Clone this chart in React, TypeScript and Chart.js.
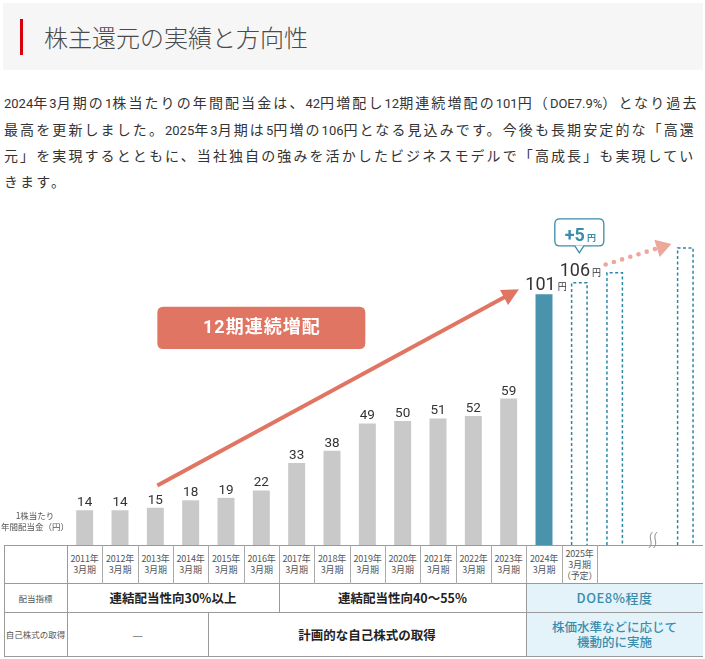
import React, { useEffect, useRef } from "react";
import { Chart, registerables } from "chart.js";

Chart.register(...registerables);

// ---------------- data ----------------
const headline = "株主還元の実績と方向性";
const introLines = [
  "2024年3月期の1株当たりの年間配当金は、42円増配し12期連続増配の101円（DOE7.9%）となり過去",
  "最高を更新しました。2025年3月期は5円増の106円となる見込みです。今後も長期安定的な「高還",
  "元」を実現するとともに、当社独自の強みを活かしたビジネスモデルで「高成長」も実現してい",
  "きます。",
];

const categories = [
  "2011", "2012", "2013", "2014", "2015", "2016", "2017", "2018", "2019",
  "2020", "2021", "2022", "2023", "2024", "2025", "2026", "gap", "future",
];
const actualValues = [14, 14, 15, 18, 19, 22, 33, 38, 49, 50, 51, 52, 59, 101, null, null, null, null];
const forecastValues = [null, null, null, null, null, null, null, null, null, null, null, null, null, null, 106, 110, null, 120];
const highlightIndex = 13;
const forecastIndex = 14;
const increaseLabel = "+5";
const badgeLabel = "12期連続増配";
const axisLabelLines = ["1株当たり", "年間配当金（円）"];

const yearLabels = [
  "2011年\n3月期", "2012年\n3月期", "2013年\n3月期", "2014年\n3月期", "2015年\n3月期",
  "2016年\n3月期", "2017年\n3月期", "2018年\n3月期", "2019年\n3月期", "2020年\n3月期",
  "2021年\n3月期", "2022年\n3月期", "2023年\n3月期", "2024年\n3月期", "2025年\n3月期\n（予定）",
];
const policyRowLabel = "配当指標";
const policyTexts = ["連結配当性向30%以上", "連結配当性向40～55%", "DOE8%程度"];
const policySpans = [6, 7, 5];
const buybackRowLabel = "自己株式の取得";
const buybackTexts = ["—", "計画的な自己株式の取得", "株価水準などに応じて\n機動的に実施"];
const buybackSpans = [4, 9, 5];

// ---------------- styles ----------------
const GRAY_BAR = "#c9c9c9";
const TEAL_BAR = "#4993ad";
const TEAL_LINE = "#2a86a6";
const TEAL_TEXT = "#3a8cab";
const RED = "#e07563";
const DOT = "#eba89b";
const LIGHT_BLUE = "#e4f2f9";
const LINE = "#9a9a9a";
const JP = '"Noto Sans CJK JP", sans-serif';
const NUM = 'Roboto, "Noto Sans CJK JP", sans-serif';

const CHART_LEFT = 67;
const CHART_RIGHT = 703;
const COLS = categories.length;
const COL_W = (CHART_RIGHT - CHART_LEFT) / COLS;
const TABLE_LEFT = 4;
const TABLE_TOP = 545;
const ROW_Y = [545, 583, 612, 656];

function renderRuns(s: string) {
  return s.split(/([\x20-\x7E]+)/).map((part, i) =>
    /^[\x20-\x7E]+$/.test(part) ? (
      <span key={i} style={{ fontFamily: 'Roboto, sans-serif', fontSize: 13, letterSpacing: 0 }}>{part}</span>
    ) : (
      <React.Fragment key={i}>{part}</React.Fragment>
    )
  );
}

function roundRect(ctx: CanvasRenderingContext2D, x: number, y: number, w: number, h: number, r: number) {
  ctx.beginPath();
  ctx.moveTo(x + r, y);
  ctx.lineTo(x + w - r, y);
  ctx.quadraticCurveTo(x + w, y, x + w, y + r);
  ctx.lineTo(x + w, y + h - r);
  ctx.quadraticCurveTo(x + w, y + h, x + w - r, y + h);
  ctx.lineTo(x + r, y + h);
  ctx.quadraticCurveTo(x, y + h, x, y + h - r);
  ctx.lineTo(x, y + r);
  ctx.quadraticCurveTo(x, y, x + r, y);
  ctx.closePath();
}

function drawValueWithYen(ctx: CanvasRenderingContext2D, value: string, cx: number, baseY: number, numFont: string, yenFont: string, color: string) {
  ctx.font = numFont;
  const nw = ctx.measureText(value).width;
  ctx.font = yenFont;
  const yw = ctx.measureText("円").width;
  const gap = 2;
  const start = cx - (nw + gap + yw) / 2;
  ctx.fillStyle = color;
  ctx.textAlign = "left";
  ctx.textBaseline = "alphabetic";
  ctx.font = numFont;
  ctx.fillText(value, start, baseY);
  ctx.font = yenFont;
  ctx.fillText("円", start + nw + gap, baseY);
}

const overlayPlugin = {
  id: "overlay",
  afterDatasetsDraw(chart: any) {
    const { ctx, scales, chartArea } = chart;
    const x = scales.x;
    const y = scales.y;
    const metaA = chart.getDatasetMeta(0);
    const metaF = chart.getDatasetMeta(1);
    ctx.save();

    // dashed forecast bars
    metaF.data.forEach((el: any, i: number) => {
      if (forecastValues[i] == null) return;
      const p = el.getProps(["x", "y", "width", "base"], true);
      const l = p.x - p.width / 2 + 0.75;
      const r = p.x + p.width / 2 - 0.75;
      ctx.beginPath();
      ctx.setLineDash([3, 2.5]);
      ctx.lineWidth = 1.5;
      ctx.strokeStyle = TEAL_LINE;
      ctx.moveTo(l, p.base);
      ctx.lineTo(l, p.y + 0.75);
      ctx.lineTo(r, p.y + 0.75);
      ctx.lineTo(r, p.base);
      ctx.stroke();
    });
    ctx.setLineDash([]);

    // value labels
    metaA.data.forEach((el: any, i: number) => {
      const v = actualValues[i];
      if (v == null) return;
      if (i === highlightIndex) {
        drawValueWithYen(ctx, String(v), el.x + 2, el.y - 4, `18px ${NUM}`, `9px ${JP}`, "#333");
      } else {
        ctx.font = `13.5px ${NUM}`;
        ctx.fillStyle = "#333";
        ctx.textAlign = "center";
        ctx.textBaseline = "alphabetic";
        ctx.fillText(String(v), el.x, el.y - 4);
      }
    });
    const fEl = metaF.data[forecastIndex];
    const fv = forecastValues[forecastIndex];
    if (fEl && fv != null) {
      drawValueWithYen(ctx, String(fv), fEl.x + 1, fEl.y - 6, `18px ${NUM}`, `9px ${JP}`, "#333");

      // +5 callout
      const bw = 49;
      const top = fEl.y - 63;
      const bottom = fEl.y - 36;
      const bx = fEl.x - bw / 2;
      ctx.beginPath();
      roundRect(ctx, bx, top, bw, bottom - top, 5);
      ctx.fillStyle = "#fff";
      ctx.fill();
      ctx.lineWidth = 1.3;
      ctx.strokeStyle = TEAL_TEXT;
      ctx.stroke();
      ctx.beginPath();
      ctx.moveTo(fEl.x - 4.5, bottom - 0.5);
      ctx.lineTo(fEl.x, bottom + 7);
      ctx.lineTo(fEl.x + 4.5, bottom - 0.5);
      ctx.closePath();
      ctx.fillStyle = "#fff";
      ctx.fill();
      ctx.beginPath();
      ctx.moveTo(fEl.x - 4.5, bottom);
      ctx.lineTo(fEl.x, bottom + 7);
      ctx.lineTo(fEl.x + 4.5, bottom);
      ctx.stroke();
      drawValueWithYen(ctx, increaseLabel, fEl.x + 1, bottom - 5, `bold 18px ${NUM}`, `bold 9px ${JP}`, TEAL_TEXT);
    }

    // big red arrow
    const sx = x.getPixelForValue(2) + 2;
    const sy = y.getPixelForValue(24);
    const tx = x.getPixelForValue(13) - 25;
    const ty = y.getPixelForValue(103);
    const dx = tx - sx;
    const dy = ty - sy;
    const len = Math.hypot(dx, dy);
    const ux = dx / len;
    const uy = dy / len;
    const px = -uy;
    const py = ux;
    ctx.strokeStyle = RED;
    ctx.fillStyle = RED;
    ctx.lineWidth = 4;
    ctx.lineCap = "butt";
    ctx.beginPath();
    ctx.moveTo(sx, sy);
    ctx.lineTo(tx - ux * 12, ty - uy * 12);
    ctx.stroke();
    ctx.beginPath();
    ctx.moveTo(tx, ty);
    ctx.lineTo(tx - ux * 17 + px * 8.5, ty - uy * 17 + py * 8.5);
    ctx.lineTo(tx - ux * 17 - px * 8.5, ty - uy * 17 - py * 8.5);
    ctx.closePath();
    ctx.fill();

    // badge
    const bl = x.getPixelForValue(2) + 2;
    const br = x.getPixelForValue(8) - 2;
    const bt = y.getPixelForValue(96);
    const bb = y.getPixelForValue(79);
    roundRect(ctx, bl, bt, br - bl, bb - bt, 6);
    ctx.fillStyle = RED;
    ctx.fill();
    ctx.fillStyle = "#fff";
    ctx.font = `bold 18px ${NUM}`;
    ctx.textAlign = "center";
    ctx.textBaseline = "middle";
    try { (ctx as any).letterSpacing = "1px"; } catch (e) {}
    ctx.fillText(badgeLabel, (bl + br) / 2 + 0.5, (bt + bb) / 2 + 1);
    try { (ctx as any).letterSpacing = "0px"; } catch (e) {}

    // dotted forecast arrow
    const ds = { x: x.getPixelForValue(15) - 9, y: y.getPixelForValue(113) };
    const dt = { x: x.getPixelForValue(17) - 14, y: y.getPixelForValue(121.3) };
    const ddx = dt.x - ds.x;
    const ddy = dt.y - ds.y;
    const dl = Math.hypot(ddx, ddy);
    const dux = ddx / dl;
    const duy = ddy / dl;
    ctx.fillStyle = DOT;
    for (let k = 0; k < 7; k++) {
      const d = k * 8.6;
      ctx.beginPath();
      ctx.arc(ds.x + dux * d, ds.y + duy * d, 2.3, 0, Math.PI * 2);
      ctx.fill();
    }
    ctx.beginPath();
    ctx.moveTo(dt.x, dt.y);
    ctx.lineTo(dt.x - dux * 15 - duy * 9, dt.y - duy * 15 + dux * 9);
    ctx.lineTo(dt.x - dux * 15 + duy * 9, dt.y - duy * 15 - dux * 9);
    ctx.closePath();
    ctx.fill();

    // break mark
    const cx = x.getPixelForValue(16) + 3;
    const baseY = chartArea.bottom;
    ctx.strokeStyle = "#8f8f8f";
    ctx.lineWidth = 1;
    [-2.3, 2.3].forEach((o) => {
      ctx.beginPath();
      ctx.moveTo(cx + o + 1.8, baseY - 13);
      ctx.bezierCurveTo(cx + o - 4, baseY - 8, cx + o + 4, baseY - 2, cx + o - 1.8, baseY + 3);
      ctx.stroke();
    });

    // axis label
    ctx.fillStyle = "#555";
    ctx.font = `8.5px ${JP}`;
    ctx.textAlign = "center";
    ctx.textBaseline = "middle";
    ctx.fillText(axisLabelLines[0], 35, baseY - 29.5);
    ctx.fillText(axisLabelLines[1], 35, baseY - 18);

    ctx.restore();
  },
};

function colX(i: number) {
  return Math.round(CHART_LEFT + i * COL_W);
}

export default function App() {
  const canvasRef = useRef<HTMLCanvasElement | null>(null);

  useEffect(() => {
    if (!canvasRef.current) return;
    const chart = new Chart(canvasRef.current, {
      type: "bar",
      data: {
        labels: categories,
        datasets: [
          {
            data: actualValues as any,
            backgroundColor: actualValues.map((_, i) => (i === highlightIndex ? TEAL_BAR : GRAY_BAR)),
            barPercentage: 0.48,
            categoryPercentage: 1,
            grouped: false,
            borderWidth: 0,
          } as any,
          {
            data: forecastValues as any,
            backgroundColor: "rgba(0,0,0,0)",
            barPercentage: 0.48,
            categoryPercentage: 1,
            grouped: false,
            borderWidth: 0,
          } as any,
        ],
      },
      options: {
        responsive: false,
        maintainAspectRatio: false,
        animation: false,
        layout: { padding: { left: CHART_LEFT, right: 705 - CHART_RIGHT, top: 0, bottom: 10 } },
        plugins: { legend: { display: false }, tooltip: { enabled: false } },
        scales: {
          x: { display: false },
          y: { display: false, min: 0, max: 139 },
        },
      },
      plugins: [overlayPlugin],
    });
    return () => chart.destroy();
  }, []);

  // table cells
  const cells: any[] = [];
  const cellStyle = (x0: number, x1: number, y0: number, y1: number, extra: any = {}) => ({
    position: "absolute" as const,
    left: x0 - TABLE_LEFT,
    top: y0 - TABLE_TOP,
    width: x1 - x0,
    height: y1 - y0,
    display: "flex",
    alignItems: "center",
    justifyContent: "center",
    textAlign: "center" as const,
    whiteSpace: "pre-line" as const,
    boxSizing: "border-box" as const,
    ...extra,
  });

  // row labels
  cells.push(<div key="l1" style={cellStyle(TABLE_LEFT, CHART_LEFT, ROW_Y[1], ROW_Y[2], { fontSize: 8.5, color: "#555" })}>{policyRowLabel}</div>);
  cells.push(<div key="l2" style={cellStyle(TABLE_LEFT, CHART_LEFT, ROW_Y[2], ROW_Y[3], { fontSize: 8.5, color: "#555" })}>{buybackRowLabel}</div>);

  // year row
  yearLabels.forEach((t, i) => {
    cells.push(
      <div key={"y" + i} style={cellStyle(colX(i), colX(i + 1), ROW_Y[0], ROW_Y[1], { fontSize: 9, lineHeight: "11px", color: "#555", letterSpacing: -0.2 })}>{t}</div>
    );
  });

  // policy row
  let c = 0;
  policyTexts.forEach((t, i) => {
    const hl = i === policyTexts.length - 1;
    cells.push(
      <div key={"p" + i} style={cellStyle(colX(c), hl ? CHART_RIGHT : colX(c + policySpans[i]), ROW_Y[1], ROW_Y[2], {
        fontSize: hl ? 13 : 12.5, fontWeight: hl ? 500 : 700, color: hl ? TEAL_TEXT : "#222", background: hl ? LIGHT_BLUE : "transparent",
        letterSpacing: hl ? 0.5 : 0,
      })}>{t}</div>
    );
    c += policySpans[i];
  });
  c = 0;
  buybackTexts.forEach((t, i) => {
    const hl = i === buybackTexts.length - 1;
    const first = i === 0;
    cells.push(
      <div key={"b" + i} style={cellStyle(colX(c), hl ? CHART_RIGHT : colX(c + buybackSpans[i]), ROW_Y[2], ROW_Y[3], {
        fontSize: first ? 12 : 12.5, fontWeight: first ? 400 : hl ? 500 : 700, lineHeight: "15px",
        color: first ? "#777" : hl ? TEAL_TEXT : "#222", background: hl ? LIGHT_BLUE : "transparent",
      })}>{t}</div>
    );
    c += buybackSpans[i];
  });

  // lines
  const lines: any[] = [];
  ROW_Y.forEach((yy, i) => {
    lines.push(<div key={"h" + i} style={{ position: "absolute", left: 0, top: yy - TABLE_TOP, width: CHART_RIGHT - TABLE_LEFT, height: 1, background: LINE }} />);
  });
  const vline = (key: string, xx: number, y0: number, y1: number, color = LINE) =>
    lines.push(<div key={key} style={{ position: "absolute", left: xx - TABLE_LEFT, top: y0 - TABLE_TOP, width: 1, height: y1 - y0 + 1, background: color }} />);
  vline("v0", TABLE_LEFT, ROW_Y[0], ROW_Y[3]);
  vline("v1", CHART_LEFT, ROW_Y[0], ROW_Y[3]);
  for (let i = 1; i <= yearLabels.length; i++) vline("vy" + i, colX(i), ROW_Y[0], ROW_Y[1], "#aaa");
  c = 0;
  policySpans.slice(0, -1).forEach((s, i) => { c += s; vline("vp" + i, colX(c), ROW_Y[1], ROW_Y[2]); });
  c = 0;
  buybackSpans.slice(0, -1).forEach((s, i) => { c += s; vline("vb" + i, colX(c), ROW_Y[2], ROW_Y[3]); });

  return (
    <div style={{ position: "absolute", left: 0, top: 0, width: 705, height: 659, overflow: "hidden", background: "#fff", fontFamily: JP }}>
      {/* title banner */}
      <div style={{ position: "absolute", left: 3, top: 3, width: 700, height: 67, background: "#f6f6f6" }} />
      <div style={{ position: "absolute", left: 20, top: 19, width: 3, height: 36, background: "#d9000d" }} />
      <div style={{ position: "absolute", left: 44, top: 19, height: 36, lineHeight: "36px", fontSize: 24, fontWeight: 300, color: "#4a4a4a", whiteSpace: "nowrap" }}>
        {headline}
      </div>

      {/* intro paragraph */}
      <div style={{ position: "absolute", left: 4, top: 90, fontSize: 14, lineHeight: "25.7px", letterSpacing: 2.1, color: "#333", whiteSpace: "nowrap" }}>
        {introLines.map((l, i) => (
          <div key={i}>{renderRuns(l)}</div>
        ))}
      </div>

      {/* table */}
      <div style={{ position: "absolute", left: TABLE_LEFT, top: TABLE_TOP, width: CHART_RIGHT - TABLE_LEFT, height: ROW_Y[3] - TABLE_TOP + 1 }}>
        {cells}
        {lines}
      </div>

      {/* chart */}
      <canvas ref={canvasRef} width={705} height={355} style={{ position: "absolute", left: 0, top: 200, width: 705, height: 355 }} />
    </div>
  );
}
